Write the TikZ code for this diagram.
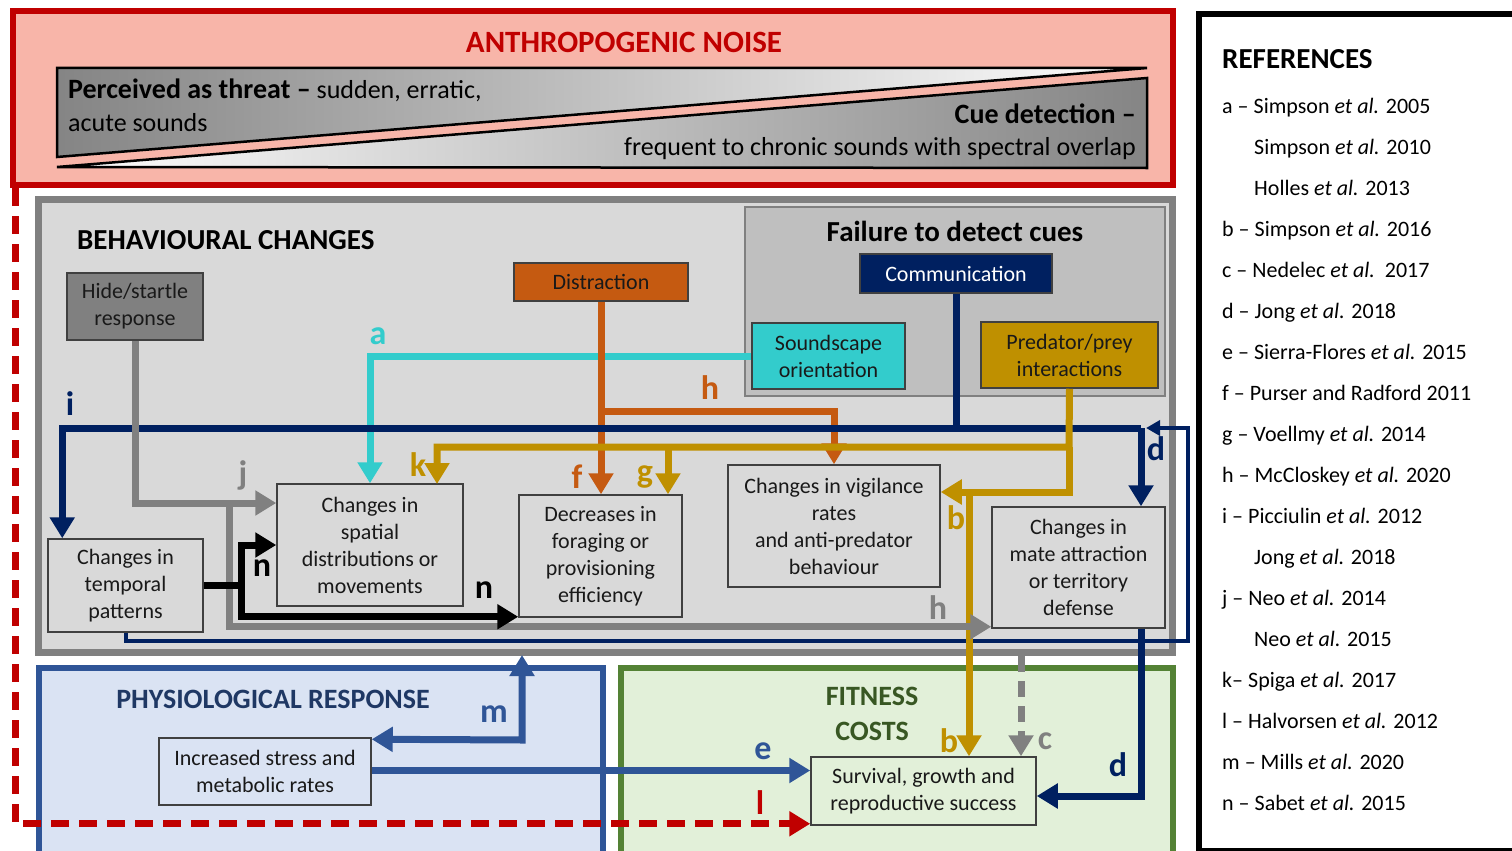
\documentclass[tikz,border=0pt]{standalone}
\usepackage{fontspec}
\setmainfont{Carlito}
\usetikzlibrary{arrows.meta,calc}
\definecolor{noisered}{HTML}{C00000}
\definecolor{noisefill}{HTML}{F8B5A9}
\definecolor{behfill}{HTML}{D9D9D9}
\definecolor{behgray}{HTML}{808080}
\definecolor{failfill}{HTML}{BFBFBF}
\definecolor{navyc}{HTML}{002060}
\definecolor{cyanc}{HTML}{33CCCC}
\definecolor{goldc}{HTML}{BF9000}
\definecolor{orangec}{HTML}{C55A11}
\definecolor{physblue}{HTML}{2F5597}
\definecolor{physfill}{HTML}{DAE3F3}
\definecolor{physdark}{HTML}{1F3864}
\definecolor{fitgreen}{HTML}{548235}
\definecolor{fitfill}{HTML}{E2F0D9}
\definecolor{fitdark}{HTML}{385723}
\newcommand{\nf}{\fontsize{22}{27}\selectfont}
\newcommand{\lfont}{\fontsize{34}{34}\selectfont\bfseries}
\newcommand{\tfont}{\fontsize{29}{34}\selectfont\bfseries}
\begin{document}
\begin{tikzpicture}[x=1pt,y=-1pt,
  box/.style={draw=black!75,line width=1.5pt,align=center,font=\nf,inner sep=0pt,text=black!90},
  conn/.style={line width=7pt},
  tip/.style={-{Triangle[length=21pt,width=24pt]}},
  thintip/.style={-{Triangle[length=14pt,width=15pt]}},
  lab/.style={font=\lfont,inner sep=0pt},
  ttl/.style={font=\tfont,inner sep=0pt},
  ref/.style={font=\fontsize{22}{27}\selectfont,anchor=base west,inner sep=0pt}
]
\useasboundingbox (0,0) rectangle (1512,851);
\clip (0,0) rectangle (1512,851);
\fill[white] (0,0) rectangle (1512,851);

% ---------- Anthropogenic noise
\draw[noisered,fill=noisefill,line width=6pt] (13,11) rectangle (1173,185);
\node[ttl,text=noisered,font=\fontsize{31}{34}\selectfont\bfseries] (tnoise) at (624,42) {ANTHROPOGENIC NOISE};
\shade[left color=black!48,right color=white] (57,68) -- (1147,68) -- (57,157) -- cycle;
\draw[line width=2.5pt,line join=miter] (57,68) -- (1147,68) -- (57,157) -- cycle;
\shade[left color=white,right color=black!48] (57,167) -- (1147,78) -- (1147,168) -- cycle;
\draw[line width=2.5pt] (57,167) -- (1147,78) -- (1147,168) -- cycle;
\node[anchor=base west,inner sep=0pt,font=\fontsize{26}{30}\selectfont] (threat) at (68,99) {{\fontsize{28}{30}\selectfont\bfseries Perceived as threat –} sudden, erratic,};
\node[anchor=base west,inner sep=0pt,font=\fontsize{26}{30}\selectfont] (acute) at (68,131) {acute sounds};
\node[anchor=base east,inner sep=0pt,font=\fontsize{28}{30}\selectfont\bfseries] (cue) at (1136,123) {Cue detection –};
\node[anchor=base east,inner sep=0pt,font=\fontsize{26}{30}\selectfont] (freq) at (1136,155) {frequent to chronic sounds with spectral overlap};

% ---------- Behavioural changes
\draw[behgray,fill=behfill,line width=7pt] (38.5,199) rectangle (1172,652);
\node[ttl,anchor=west] (tbeh) at (77,240) {BEHAVIOURAL CHANGES};
\draw[black!50,fill=failfill,line width=1.5pt] (745,207) rectangle (1165,396);
\node[ttl] (tfail) at (955,231) {Failure to detect cues};

% ---------- Physiological & fitness
\draw[physblue,fill=physfill,line width=6.5pt] (39,668) rectangle (603,875);
\node[ttl,text=physdark,font=\fontsize{28}{34}\selectfont\bfseries] (tphys) at (273,699) {PHYSIOLOGICAL RESPONSE};
\draw[fitgreen,fill=fitfill,line width=6.5pt] (621,668) rectangle (1173,875);
\node[ttl,text=fitdark,align=center,font=\fontsize{28}{35}\selectfont\bfseries] (tfit) at (872,714) {FITNESS\\COSTS};

% ---------- References
\draw[line width=5.5pt] (1199,14) rectangle (1540,850.5);
\node[ref,font=\fontsize{29}{30}\selectfont\bfseries] (rt) at (1222,69) {REFERENCES};
\node[ref] (r1) at (1222,113) {a – Simpson \textit{et al.} 2005};
\node[ref] (r2) at (1254,154) {Simpson \textit{et al.} 2010};
\node[ref] (r3) at (1254,195) {Holles \textit{et al.} 2013};
\node[ref] (r4) at (1222,236) {b – Simpson \textit{et al.} 2016};
\node[ref] (r5) at (1222,277) {c – Nedelec \textit{et al.}\ \ 2017};
\node[ref] (r6) at (1222,318) {d – Jong \textit{et al.} 2018};
\node[ref] (r7) at (1222,359) {e – Sierra-Flores \textit{et al.} 2015};
\node[ref] (r8) at (1222,400) {f – Purser and Radford 2011};
\node[ref] (r9) at (1222,441) {g – Voellmy \textit{et al.} 2014};
\node[ref] (r10) at (1222,482) {h – McCloskey \textit{et al.} 2020};
\node[ref] (r11) at (1222,523) {i – Picciulin \textit{et al.} 2012};
\node[ref] (r12) at (1254,564) {Jong \textit{et al.} 2018};
\node[ref] (r13) at (1222,605) {j – Neo \textit{et al.} 2014};
\node[ref] (r14) at (1254,646) {Neo \textit{et al.} 2015};
\node[ref] (r15) at (1222,687) {k– Spiga \textit{et al.} 2017};
\node[ref] (r16) at (1222,728) {l – Halvorsen \textit{et al.} 2012};
\node[ref] (r17) at (1222,769) {m – Mills \textit{et al.} 2020};
\node[ref] (r18) at (1222,810) {n – Sabet \textit{et al.} 2015};

% ---------- Nodes
\node[box,fill=behgray,minimum width=136pt,minimum height=67pt] (hide) at (135,306.5) {Hide/startle\\response};
\node[box,fill=behfill,minimum width=155pt,minimum height=93pt] (temporal) at (125.5,585.5) {Changes in\\temporal\\patterns};
\node[box,fill=behfill,minimum width=186pt,minimum height=122pt] (spatial) at (370,545) {Changes in\\spatial\\distributions or\\movements};
\node[box,fill=behfill,minimum width=163pt,minimum height=122pt] (forage) at (600.5,556) {Decreases in\\foraging or\\provisioning\\efficiency};
\node[box,fill=behfill,minimum width=212pt,minimum height=122pt] (vigil) at (834,526) {Changes in vigilance\\rates\\and anti-predator\\behaviour};
\node[box,fill=behfill,minimum width=173pt,minimum height=121pt] (mate) at (1078.5,567.5) {Changes in\\mate attraction\\or territory\\defense};
\node[box,fill=orangec,minimum width=174pt,minimum height=38pt] (distr) at (601,282) {Distraction};
\node[box,fill=navyc,text=white,minimum width=192pt,minimum height=39pt] (comm) at (956,273.5) {Communication};
\node[box,fill=cyanc,minimum width=153pt,minimum height=66pt] (sound) at (828.5,356) {Soundscape\\orientation};
\node[box,fill=goldc,minimum width=177pt,minimum height=66pt] (pred) at (1069.5,355) {Predator/prey\\interactions};
\node[box,fill=physfill,minimum width=212pt,minimum height=67pt] (stress) at (265,771.5) {Increased stress and\\metabolic rates};
\node[box,fill=fitfill,minimum width=225pt,minimum height=68pt] (surv) at (923.5,791) {Survival, growth and\\reproductive success};

% ---------- Connectors
\coordinate (oj) at (601,411);
\coordinate (nj) at (1141,428);
\coordinate (gj) at (1069,447);
\coordinate (gk) at (437,484);
\coordinate (gg) at (668,447);
\coordinate (gb) at (1069,492);
\coordinate (gv) at (969,492);
\coordinate (hj) at (229,503);
\coordinate (bj) at (241,585.5);
\coordinate (mj) at (522,740);
\coordinate (mt) at (522,655);
\coordinate (cstart) at (1021,656);
\coordinate (lstart) at (15,188);
\coordinate (lp1) at (125.5,641);
\coordinate (lp2) at (1188,641);
\coordinate (lp3) at (1188,428);
\coordinate (lp4) at (1146,428);

% cyan a
\draw[conn,cyanc,tip] (sound.west) -| (spatial.north);
% orange f, h
\draw[conn,orangec,tip] (distr.south) -- (distr.south |- forage.north);
\draw[conn,orangec,tip] (oj) -| (vigil.north);
% navy i, d
\draw[conn,navyc] (comm.south) -- (comm.south |- nj);
\draw[conn,navyc,tip] (nj) -| ([xshift=15pt]temporal.north west);
\draw[conn,navyc,tip] (nj) -- (nj |- mate.north);
\draw[conn,navyc,tip] (nj |- mate.south) |- ([yshift=-5pt]surv.east);
\draw[line width=4pt,navyc,thintip] (temporal.south) -- (lp1) -- (lp2) -- (lp3) -- (lp4);
% gold k, g, b
\draw[conn,goldc,tip] (pred.south) -- (gj) -| (gk);
\draw[conn,goldc,tip] (gg) -- (gg |- forage.north);
\draw[conn,goldc,tip] (gj) -- (gb) -- (gb -| vigil.east);
\draw[conn,goldc,tip] (gv) -- (gv |- surv.north);
% gray j, h, c
\draw[conn,behgray,tip] (hide.south) |- ([yshift=42pt]spatial.west);
\draw[conn,behgray,tip] (hj) |- ([yshift=2pt]mate.south west);
\draw[conn,behgray,tip,dash pattern=on 16pt off 9pt] (cstart) -- (cstart |- surv.north);
% black n
\draw[conn,black,tip] (temporal.east) -- (bj) |- (spatial.west);
\draw[conn,black,tip] (bj) |- ([yshift=1pt]forage.south west);
% blue m, e
\draw[conn,physblue,{Triangle[length=21pt,width=24pt]}-{Triangle[length=21pt,width=24pt]}] ([yshift=-2pt]stress.north east) -- (mj) -- (mt);
\draw[conn,physblue,tip] ([yshift=1pt]stress.east) -- ([yshift=1pt]stress.east -| surv.west);
% red dashed l
\draw[conn,noisered,tip,dash pattern=on 18pt off 10pt] (lstart) |- ([yshift=2pt]surv.south west);

% ---------- Labels
\node[lab,text=cyanc] (la) at (378,336) {a};
\node[lab,text=orangec] (lf) at (577,477) {f};
\node[lab,text=orangec] (lh) at (710,388) {h};
\node[lab,text=navyc] (li) at (70,404) {i};
\node[lab,text=navyc] (ld1) at (1156,449) {d};
\node[lab,text=navyc] (ld2) at (1118,765) {d};
\node[lab,text=goldc] (lk) at (418,465) {k};
\node[lab,text=goldc] (lg) at (645,477) {g};
\node[lab,text=goldc] (lb1) at (956,518) {b};
\node[lab,text=goldc] (lb2) at (949,741) {b};
\node[lab,text=behgray] (lj) at (243,475) {j};
\node[lab,text=behgray] (lh2) at (938,608) {h};
\node[lab,text=behgray] (lc) at (1045,741) {c};
\node[lab,text=black] (ln1) at (262,568) {n};
\node[lab,text=black] (ln2) at (484,590) {n};
\node[lab,text=physblue] (lm) at (494,714) {m};
\node[lab,text=physblue] (le) at (763,751) {e};
\node[lab,text=noisered] (ll) at (760,803) {l};
\end{tikzpicture}
\end{document}
